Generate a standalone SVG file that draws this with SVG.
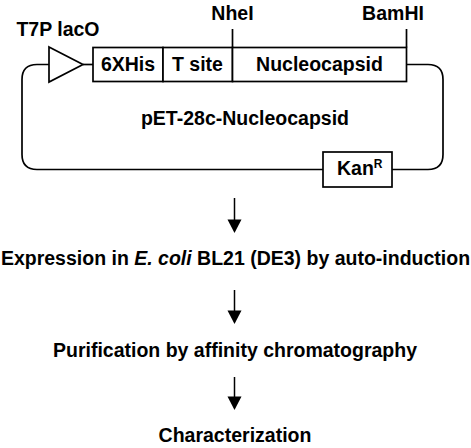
<svg xmlns="http://www.w3.org/2000/svg" width="471" height="448" viewBox="0 0 471 448">
<style>
text{font-family:"Liberation Sans",Arial,sans-serif;font-weight:bold;font-size:19.5px;fill:#000}
.c{text-anchor:middle}
.ln{fill:none;stroke:#000;stroke-width:1.7}
.bx{fill:#fff;stroke:#000;stroke-width:1.7}
.sh{stroke:#000;stroke-width:1.5}
.hd{fill:#000}
</style>
<g id="connectors">
<path class="ln" d="M49,64.5 H37 Q22,64.5 22,79.5 V154.5 Q22,169.5 37,169.5 H323"/>
<path class="ln" d="M392,169.5 H428 Q443,169.5 443,154.5 V79.5 Q443,64.5 428,64.5 H406.5"/>
<line class="ln" x1="83" y1="64.5" x2="93" y2="64.5"/>
<line class="ln" x1="232.5" y1="29" x2="232.5" y2="47.5"/>
<line class="ln" x1="406.5" y1="29" x2="406.5" y2="47.5"/>
<g id="arrow1"><line class="sh" x1="234.5" y1="198" x2="234.5" y2="221"/><path class="hd" d="M227.5,219.5 H241.5 L234.5,233 Z"/></g>
<g id="arrow2"><line class="sh" x1="234.5" y1="290" x2="234.5" y2="312"/><path class="hd" d="M227.5,310.5 H241.5 L234.5,324 Z"/></g>
<g id="arrow3"><line class="sh" x1="234.5" y1="377" x2="234.5" y2="398"/><path class="hd" d="M227.5,396.5 H241.5 L234.5,410 Z"/></g>
</g>
<g id="promoter">
<path class="bx" d="M49,47 L83,64.5 L49,82 Z"/>
<text x="58" y="36" class="c">T7P lacO</text>
</g>
<g id="his">
<rect class="bx" x="93" y="47.5" width="70" height="34"/>
<text x="128" y="71" class="c">6XHis</text>
</g>
<g id="tsite">
<rect class="bx" x="163" y="47.5" width="69.5" height="34"/>
<text x="197.5" y="71" class="c">T site</text>
</g>
<g id="nucleocapsid">
<rect class="bx" x="232.5" y="47.5" width="174" height="34"/>
<text x="319.5" y="71" class="c">Nucleocapsid</text>
</g>
<g id="nhei"><text x="232.5" y="20" class="c">NheI</text></g>
<g id="bamhi"><text x="393" y="20" class="c">BamHI</text></g>
<g id="plasmid"><text x="245" y="125" class="c">pET-28c-Nucleocapsid</text></g>
<g id="kan">
<rect class="bx" x="323" y="152" width="69" height="35"/>
<text x="337" y="174.5">Kan<tspan font-size="12" dy="-7">R</tspan></text>
</g>
<g id="expression"><text x="235.5" y="265" class="c">Expression in <tspan font-style="italic">E. coli</tspan> BL21 (DE3) by auto-induction</text></g>
<g id="purification"><text x="235" y="357" class="c">Purification by affinity chromatography</text></g>
<g id="characterization"><text x="235" y="442" class="c">Characterization</text></g>
</svg>
